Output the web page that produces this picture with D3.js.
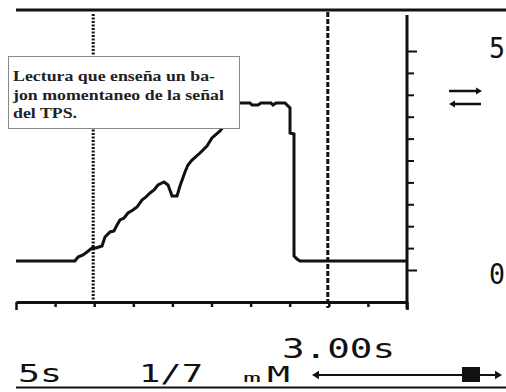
<!DOCTYPE html>
<html><head><meta charset="utf-8">
<script src="https://cdn.jsdelivr.net/npm/d3@7"></script>
<style>html,body{margin:0;padding:0;background:#fff;overflow:hidden}</style>
</head><body><svg id="c" width="506" height="392"></svg>
<script>
// ---- data ----
const times = [0, 0.754, 0.793, 0.857, 0.908, 0.972, 1.023, 1.100, 1.138, 1.202, 1.253, 1.292, 1.330, 1.381, 1.432, 1.496, 1.547, 1.611, 1.662, 1.714, 1.765, 1.816, 1.893, 1.944, 1.982, 1.995, 2.059, 2.097, 2.161, 2.199, 2.251, 2.353, 2.442, 2.506, 2.609, 2.711, 2.788, 2.852, 2.992, 3.018, 3.095, 3.133, 3.261, 3.286, 3.325, 3.440, 3.504, 3.504, 3.555, 3.555, 3.593, 3.632, 5.0];
const volts = [0.205, 0.205, 0.297, 0.342, 0.411, 0.502, 0.502, 0.548, 0.753, 0.868, 0.890, 1.027, 1.142, 1.187, 1.301, 1.370, 1.438, 1.598, 1.667, 1.758, 1.826, 1.941, 2.009, 1.941, 1.758, 1.689, 1.689, 1.918, 2.237, 2.397, 2.511, 2.671, 2.831, 3.014, 3.174, 3.402, 3.653, 3.813, 3.813, 3.767, 3.767, 3.813, 3.813, 3.767, 3.813, 3.813, 3.699, 3.128, 3.105, 0.320, 0.251, 0.205, 0.205];
const xTicks = [0, 0.5, 1, 1.5, 2, 2.5, 3, 3.5, 4, 4.5, 5];
const yTicks = [0, 0.5, 1, 1.5, 2, 2.5, 3, 3.5, 4, 4.5, 5];
const yLabelValues = [5, 0];
const yLabelTexts = ["5", "0"];
const cursors = [1.0, 4.0];
const noteLines = ["Lectura que enseña un ba-", "jon momentaneo de la señal", "del TPS."];
const timebaseText = "5s";
const pageText = "1/7";

// ---- layout ----
const svg = d3.select("#c");
const ink = "#111";
const left = 16, right = 407, axisY = 302;
const x = d3.scaleLinear().domain([0, 5]).range([left, right]);
const y = d3.scaleLinear().domain([0, 5]).range([270, 51]);

svg.append("rect").attr("width", 506).attr("height", 392).attr("fill", "#fff");

// top screen border
svg.append("line").attr("x1", left).attr("x2", 506).attr("y1", 10).attr("y2", 10)
  .attr("stroke", ink).attr("stroke-width", 3);
// bottom screen border
svg.append("line").attr("x1", left).attr("x2", 506).attr("y1", 387.5).attr("y2", 387.5)
  .attr("stroke", ink).attr("stroke-width", 2);

// cursors
svg.append("line").attr("x1", x(cursors[0]) - 1).attr("x2", x(cursors[0]) - 1)
  .attr("y1", 14).attr("y2", axisY)
  .attr("stroke", ink).attr("stroke-width", 3).attr("stroke-dasharray", "2,1.5");
svg.append("line").attr("x1", x(cursors[1]) - 1).attr("x2", x(cursors[1]) - 1)
  .attr("y1", 12).attr("y2", axisY + 6)
  .attr("stroke", ink).attr("stroke-width", 3).attr("stroke-dasharray", "5,2");

// bottom axis
const gx = svg.append("g").attr("transform", `translate(0,${axisY})`)
  .call(d3.axisBottom(x).tickValues(xTicks).tickSize(5).tickSizeOuter(0).tickFormat(""));
gx.select(".domain").attr("stroke", ink).attr("stroke-width", 3);
gx.selectAll(".tick line").attr("stroke", ink).attr("stroke-width", 2.5)
  .attr("y2", d => (d === 0 || d === 5) ? 8 : 5);

// right axis
const gy = svg.append("g").attr("transform", `translate(${right},0)`)
  .call(d3.axisRight(y).tickValues(yTicks).tickSize(7).tickSizeOuter(0).tickFormat(""));
gy.select(".domain").remove();
gy.selectAll(".tick line").attr("stroke", ink).attr("stroke-width", 2)
  .attr("x2", d => (d === 0 || d === 5) ? 10 : 7);
svg.append("line").attr("x1", right).attr("x2", right).attr("y1", 15).attr("y2", axisY + 7)
  .attr("stroke", ink).attr("stroke-width", 3);

// trace
const pts = times.map((t, i) => [t, volts[i]]);
svg.append("path").datum(pts)
  .attr("d", d3.line().x(d => x(d[0])).y(d => y(d[1])))
  .attr("fill", "none").attr("stroke", ink).attr("stroke-width", 3)
  .attr("stroke-linejoin", "miter");

// annotation box
svg.append("rect").attr("x", 8.5).attr("y", 56.5).attr("width", 231).attr("height", 72)
  .attr("fill", "#fff").attr("stroke", "#888").attr("stroke-width", 1);
const noteWidths = [202, 211, 64];
svg.selectAll("text.note").data(noteLines).join("text")
  .attr("class", "note")
  .attr("x", 13).attr("y", (d, i) => 81 + i * 18.5)
  .attr("font-family", "'Liberation Serif', 'Times New Roman', serif")
  .attr("font-weight", "bold").attr("font-size", 15).attr("fill", "#222")
  .attr("textLength", (d, i) => noteWidths[i]).attr("lengthAdjust", "spacingAndGlyphs")
  .text(d => d);

// y labels (LCD style)
const lcd = "'DejaVu Sans Mono', monospace";
svg.selectAll("text.ylab").data(yLabelValues).join("text")
  .attr("class", "ylab")
  .attr("x", 489).attr("y", d => y(d) + (d === 5 ? 7 : 14))
  .attr("font-family", lcd).attr("font-size", 29).attr("fill", ink)
  .attr("textLength", 16).attr("lengthAdjust", "spacingAndGlyphs")
  .text((d, i) => yLabelTexts[i]);

// swap arrows symbol
function arrowHead(cx, cy, dir, size) {
  return `M${cx},${cy} L${cx - dir * size},${cy - size * 0.6} L${cx - dir * size},${cy + size * 0.6} Z`;
}
svg.append("line").attr("x1", 449).attr("x2", 478).attr("y1", 91).attr("y2", 91)
  .attr("stroke", ink).attr("stroke-width", 2.5);
svg.append("path").attr("d", arrowHead(482, 91, 1, 6)).attr("fill", ink);
svg.append("line").attr("x1", 453).attr("x2", 481).attr("y1", 104).attr("y2", 104)
  .attr("stroke", ink).attr("stroke-width", 2.5);
svg.append("path").attr("d", arrowHead(449, 104, -1, 6)).attr("fill", ink);

// cursor delta readout
const delta = (cursors[1] - cursors[0]).toFixed(2) + "s";
svg.append("text").attr("x", 282).attr("y", 358)
  .attr("font-family", lcd).attr("font-size", 27).attr("fill", ink)
  .attr("textLength", 113).attr("lengthAdjust", "spacingAndGlyphs").text(delta);

// bottom status row
svg.append("text").attr("x", 18).attr("y", 382)
  .attr("font-family", lcd).attr("font-size", 24).attr("fill", ink)
  .attr("textLength", 44).attr("lengthAdjust", "spacingAndGlyphs").text(timebaseText);
svg.append("text").attr("x", 139).attr("y", 382)
  .attr("font-family", lcd).attr("font-size", 24).attr("fill", ink)
  .attr("textLength", 64).attr("lengthAdjust", "spacingAndGlyphs").text(pageText);
svg.append("text").attr("x", 243).attr("y", 382)
  .attr("font-family", lcd).attr("font-size", 12).attr("fill", ink)
  .attr("textLength", 18).attr("lengthAdjust", "spacingAndGlyphs").text("m");
svg.append("text").attr("x", 267).attr("y", 382)
  .attr("font-family", lcd).attr("font-size", 22).attr("fill", ink)
  .attr("textLength", 23).attr("lengthAdjust", "spacingAndGlyphs").text("M");

// scroll bar arrow
svg.append("line").attr("x1", 316).attr("x2", 497).attr("y1", 375).attr("y2", 375)
  .attr("stroke", ink).attr("stroke-width", 2);
svg.append("path").attr("d", arrowHead(312, 375, -1, 7)).attr("fill", ink);
svg.append("path").attr("d", arrowHead(502, 375, 1, 7)).attr("fill", ink);
svg.append("rect").attr("x", 462).attr("y", 367).attr("width", 18).attr("height", 15).attr("fill", ink);
</script></body></html>
